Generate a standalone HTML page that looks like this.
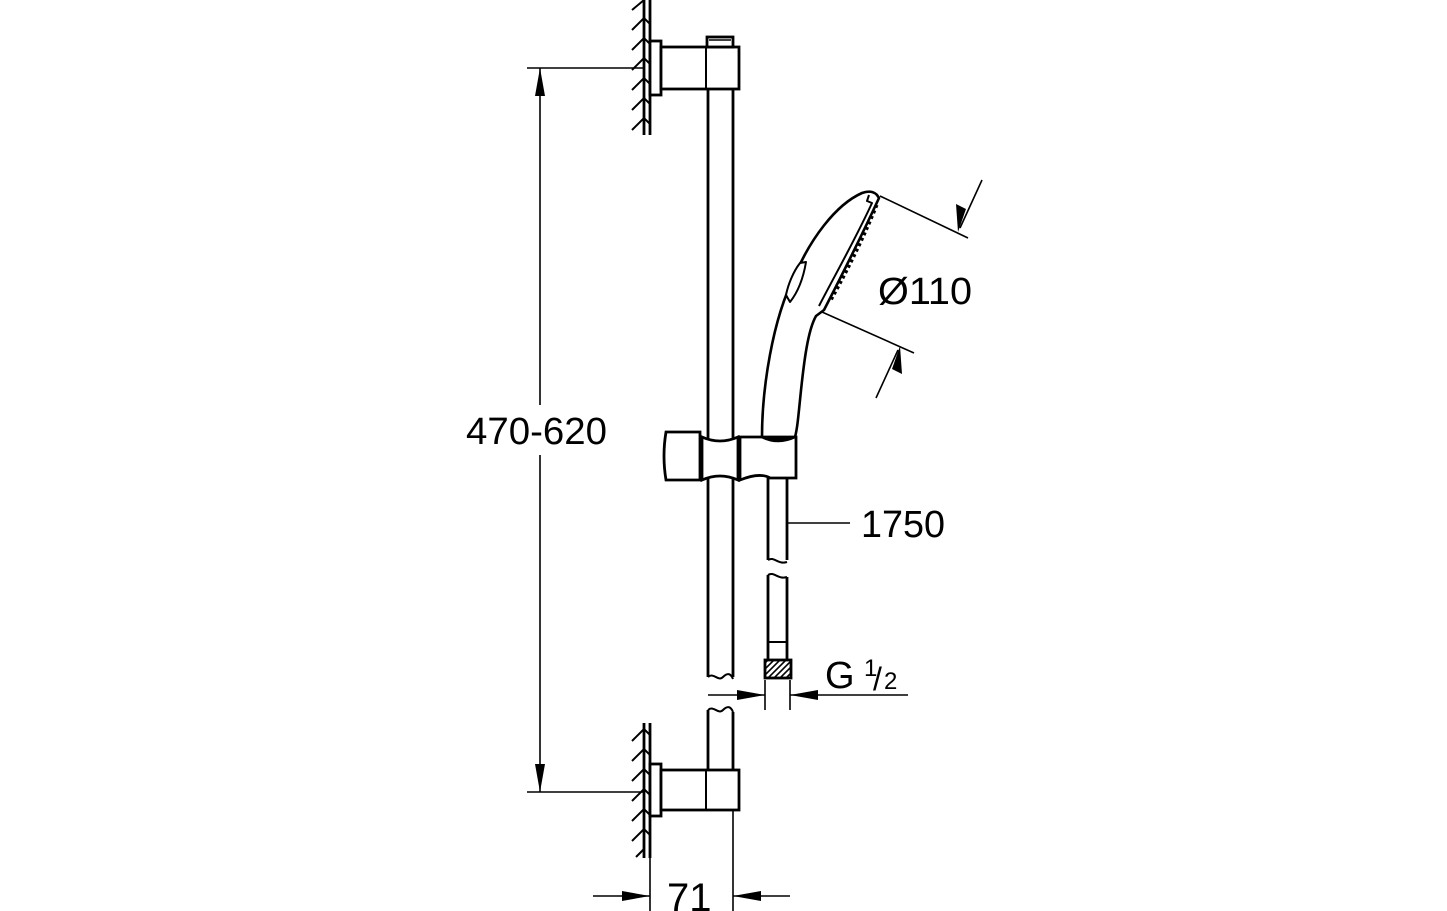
<!DOCTYPE html>
<html><head><meta charset="utf-8"><style>
html,body{margin:0;padding:0;background:#fff;}
svg{display:block;}
text{font-family:"Liberation Sans",sans-serif;fill:#000;}
</style></head><body>
<svg width="1447" height="911" viewBox="0 0 1447 911" xmlns="http://www.w3.org/2000/svg">
<defs>
<pattern id="hatch" width="6" height="6" patternUnits="userSpaceOnUse"><path d="M0 6L6 0M-1 1L1 -1M5 7L7 5" stroke="#000" stroke-width="1.6"/></pattern>
</defs>
<g fill="none" stroke="#000" stroke-width="2.8">
<line x1="644" y1="0" x2="644" y2="135"/>
<line x1="650" y1="0" x2="650" y2="135"/>
<line x1="644" y1="723" x2="644" y2="858"/>
<line x1="650" y1="723" x2="650" y2="858"/>
</g>
<g stroke="#000" stroke-width="2" fill="none">
<path d="M632 10L644 0M632 30L644 18L650 24M632 50L644 38L650 44M632 70L644 58L650 64M632 90L644 78L650 84M632 110L644 98L650 104M632 130L644 118L650 124"/>
<path d="M632 741L644 729L650 735M632 761L644 749L650 755M632 781L644 769L650 775M632 801L644 789L650 795M632 821L644 809L650 815M632 841L644 829L650 835M636 857L644 849"/>
</g>
<g fill="#fff" stroke="#000" stroke-width="2.8">
<rect x="650" y="41" width="11" height="54"/>
<rect x="661" y="47" width="78" height="42"/>
<rect x="707" y="37" width="26" height="10"/>
<rect x="650" y="764" width="11" height="52"/>
<rect x="661" y="770" width="78" height="40"/>
</g>
<g fill="none" stroke="#000" stroke-width="2.8">
<line x1="706" y1="47" x2="706" y2="89" stroke-width="2"/>
<line x1="706" y1="770" x2="706" y2="810" stroke-width="2"/>
<line x1="709" y1="40" x2="731" y2="40" stroke-width="1.6"/>
<path d="M708 89V677M733 89V677"/>
<path d="M708 677c6 -5 10 5 15 0s8 -3 10 2" stroke-width="2"/>
<path d="M708 710c6 -5 10 5 15 0s8 -3 10 2" stroke-width="2"/>
<path d="M708 710V770M733 712V770"/>
<path d="M768 478V560M787 478V560"/>
<path d="M768 560c6 -4 10 5 19 2" stroke-width="2"/>
<path d="M768 575c6 -4 10 5 19 2" stroke-width="2"/>
<path d="M768 575V660M787 577V660"/>
<line x1="768" y1="642" x2="787" y2="642" stroke-width="2"/>
</g>
<rect x="765" y="660" width="26" height="18" fill="url(#hatch)" stroke="#000" stroke-width="2.8"/>
<g fill="#fff" stroke="#000" stroke-width="2.8">
<path d="M666 432H700V480H666Q662 456 666 432Z"/>
<path d="M702 437Q720 445 738 437V480Q720 472 702 480Z"/>
<path d="M740 437H796V478H770Q760 472 740 480Z"/>
</g>
<g fill="#fff" stroke="#000" stroke-width="2.6" stroke-linejoin="round">
<path d="M762 437C762 390 772 320 795 275C810 240 835 205 862 193C870 190 876 192 879 198C862 235 842 275 824 310L816 316C808 330 804 360 800 400C798 420 797 430 795 437Z"/>
<path d="M869 195L867 201L872 203C855 240 835 275 819 306" fill="none" stroke-width="2"/>
<path d="M877 205C865 235 848 270 830 302" fill="none" stroke-width="3" stroke-dasharray="3 3"/>
<path d="M800 263C793 272 788 285 786 295L790 302C798 292 803 280 806 262Z" stroke-width="2"/>
<path d="M762 437Q778 445 795 437Z" fill="#000"/>
</g>
<g stroke="#000" stroke-width="1.6" fill="none">
<line x1="540" y1="68" x2="540" y2="405"/>
<line x1="540" y1="455" x2="540" y2="792"/>
<line x1="527" y1="68" x2="645" y2="68"/>
<line x1="527" y1="792" x2="645" y2="792"/>
<line x1="650" y1="816" x2="650" y2="911"/>
<line x1="733" y1="810" x2="733" y2="911"/>
<line x1="593" y1="896" x2="650" y2="896"/>
<line x1="733" y1="896" x2="790" y2="896"/>
<line x1="787" y1="523" x2="850" y2="523"/>
<line x1="708" y1="695" x2="765" y2="695"/>
<line x1="790" y1="695" x2="908" y2="695"/>
<line x1="765" y1="680" x2="765" y2="710"/>
<line x1="790" y1="680" x2="790" y2="710"/>
<line x1="880" y1="196" x2="968" y2="238"/>
<line x1="822" y1="312" x2="914" y2="353"/>
<line x1="982" y1="180" x2="960" y2="228"/>
<line x1="876" y1="398" x2="898" y2="350"/>
</g>
<g fill="#000">
<path d="M540 68L535 96H545Z"/>
<path d="M540 792L535 764H545Z"/>
<path d="M650 896L622 891V901Z"/>
<path d="M733 896L761 891V901Z"/>
<path d="M765 695L737 690V700Z"/>
<path d="M790 695L818 690V700Z"/>
<path d="M958 232L956 204L966 209Z"/>
<path d="M900 346L902 374L892 369Z"/>
</g>
<g>
<text x="466" y="444" font-size="38" textLength="141" lengthAdjust="spacingAndGlyphs">470-620</text>
<text x="878" y="304" font-size="38" textLength="94" lengthAdjust="spacingAndGlyphs">Ø110</text>
<text x="861" y="537" font-size="38" textLength="84" lengthAdjust="spacingAndGlyphs">1750</text>
<text x="825" y="688" font-size="38">G</text>
<text x="864" y="676" font-size="24">1</text>
<text x="873" y="690" font-size="32">/</text>
<text x="884" y="689" font-size="24">2</text>
<text x="667" y="911" font-size="40">71</text>
</g>
</svg>
</body></html>
